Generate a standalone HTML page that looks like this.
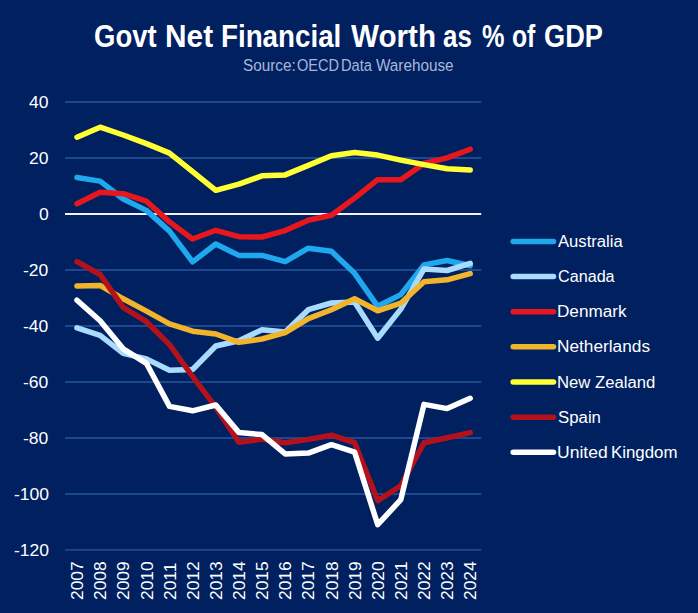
<!DOCTYPE html>
<html><head><meta charset="utf-8"><title>Govt Net Financial Worth as % of GDP</title>
<style>
html,body{margin:0;padding:0;}
body{width:698px;height:613px;background:#002060;overflow:hidden;position:relative;font-family:"Liberation Sans",sans-serif;}
svg{position:absolute;left:0;top:0;}
.t{position:absolute;white-space:nowrap;color:#fff;line-height:1;transform-origin:0 0;}
.b{font-weight:bold;}
</style></head><body>

<svg width="698" height="613" viewBox="0 0 698 613">
<line x1="65" x2="481.2" y1="102.03" y2="102.03" stroke="#1c498d" stroke-width="1.9"/>
<line x1="65" x2="481.2" y1="158.01" y2="158.01" stroke="#1c498d" stroke-width="1.9"/>
<line x1="65" x2="481.2" y1="269.99" y2="269.99" stroke="#1c498d" stroke-width="1.9"/>
<line x1="65" x2="481.2" y1="325.97" y2="325.97" stroke="#1c498d" stroke-width="1.9"/>
<line x1="65" x2="481.2" y1="381.96" y2="381.96" stroke="#1c498d" stroke-width="1.9"/>
<line x1="65" x2="481.2" y1="437.94" y2="437.94" stroke="#1c498d" stroke-width="1.9"/>
<line x1="65" x2="481.2" y1="493.93" y2="493.93" stroke="#1c498d" stroke-width="1.9"/>
<line x1="65" x2="481.2" y1="549.92" y2="549.92" stroke="#1c498d" stroke-width="1.9"/>
<line x1="65" x2="481.2" y1="214.00" y2="214.00" stroke="#eef3ff" stroke-width="2.2"/>
<polyline points="77.0,177.5 100.1,181.1 123.2,199.0 146.4,210.4 169.5,231.1 192.6,261.9 215.8,244.0 238.9,255.4 262.0,255.4 285.2,261.6 308.3,248.2 331.4,251.3 354.6,273.3 377.7,306.3 400.8,294.6 424.0,264.9 447.1,260.5 470.2,265.8" fill="none" stroke="#1fa8ee" stroke-width="5.5" stroke-linecap="round" stroke-linejoin="round"/>
<polyline points="77.0,327.8 100.1,335.4 123.2,353.3 146.4,358.9 169.5,370.3 192.6,369.5 215.8,346.0 238.9,340.7 262.0,329.8 285.2,332.0 308.3,309.7 331.4,303.0 354.6,302.1 377.7,338.2 400.8,309.1 424.0,268.9 447.1,270.5 470.2,263.3" fill="none" stroke="#a9dbff" stroke-width="5.5" stroke-linecap="round" stroke-linejoin="round"/>
<polyline points="77.0,203.7 100.1,192.3 123.2,193.7 146.4,201.2 169.5,221.9 192.6,239.0 215.8,230.3 238.9,236.7 262.0,237.0 285.2,230.6 308.3,220.2 331.4,215.2 354.6,198.1 377.7,179.7 400.8,179.7 424.0,163.5 447.1,157.9 470.2,149.2" fill="none" stroke="#e8171e" stroke-width="5.5" stroke-linecap="round" stroke-linejoin="round"/>
<polyline points="77.0,285.9 100.1,285.4 123.2,298.8 146.4,311.1 169.5,323.9 192.6,331.2 215.8,334.0 238.9,342.4 262.0,339.0 285.2,332.6 308.3,318.6 331.4,309.7 354.6,298.8 377.7,310.8 400.8,303.2 424.0,281.7 447.1,279.8 470.2,273.6" fill="none" stroke="#f1b42a" stroke-width="5.5" stroke-linecap="round" stroke-linejoin="round"/>
<polyline points="77.0,137.2 100.1,127.2 123.2,135.0 146.4,143.6 169.5,153.1 192.6,171.6 215.8,190.3 238.9,184.2 262.0,175.8 285.2,174.9 308.3,165.4 331.4,155.7 354.6,152.6 377.7,155.1 400.8,160.1 424.0,164.6 447.1,168.8 470.2,169.9" fill="none" stroke="#ffff33" stroke-width="5.5" stroke-linecap="round" stroke-linejoin="round"/>
<polyline points="77.0,261.6 100.1,274.5 123.2,307.4 146.4,321.7 169.5,344.6 192.6,376.5 215.8,407.2 238.9,442.2 262.0,439.1 285.2,442.7 308.3,439.4 331.4,435.2 354.6,442.7 377.7,500.6 400.8,485.8 424.0,442.7 447.1,437.7 470.2,432.6" fill="none" stroke="#b3121d" stroke-width="5.5" stroke-linecap="round" stroke-linejoin="round"/>
<polyline points="77.0,300.2 100.1,320.8 123.2,348.8 146.4,363.3 169.5,406.4 192.6,410.8 215.8,405.0 238.9,432.6 262.0,434.6 285.2,453.9 308.3,453.1 331.4,444.7 354.6,452.2 377.7,524.6 400.8,499.7 424.0,404.4 447.1,408.6 470.2,398.3" fill="none" stroke="#ffffff" stroke-width="5.5" stroke-linecap="round" stroke-linejoin="round"/>
<line x1="513.2" x2="553.5" y1="241.40" y2="241.40" stroke="#1fa8ee" stroke-width="5.5" stroke-linecap="round"/>
<line x1="513.2" x2="553.5" y1="276.55" y2="276.55" stroke="#a9dbff" stroke-width="5.5" stroke-linecap="round"/>
<line x1="513.2" x2="553.5" y1="311.70" y2="311.70" stroke="#e8171e" stroke-width="5.5" stroke-linecap="round"/>
<line x1="513.2" x2="553.5" y1="346.85" y2="346.85" stroke="#f1b42a" stroke-width="5.5" stroke-linecap="round"/>
<line x1="513.2" x2="553.5" y1="382.00" y2="382.00" stroke="#ffff33" stroke-width="5.5" stroke-linecap="round"/>
<line x1="513.2" x2="553.5" y1="417.15" y2="417.15" stroke="#b3121d" stroke-width="5.5" stroke-linecap="round"/>
<line x1="513.2" x2="553.5" y1="452.30" y2="452.30" stroke="#ffffff" stroke-width="5.5" stroke-linecap="round"/>
</svg>
<div class="t b" style="left:94.49px;top:21.00px;font-size:31px;transform:scaleX(0.8870)">Govt</div>
<div class="t b" style="left:164.58px;top:21.00px;font-size:31px;transform:scaleX(0.9621)">Net</div>
<div class="t b" style="left:220.51px;top:21.00px;font-size:31px;transform:scaleX(0.8952)">Financial</div>
<div class="t b" style="left:351.20px;top:21.00px;font-size:31px;transform:scaleX(0.9563)">Worth</div>
<div class="t b" style="left:443.17px;top:21.00px;font-size:31px;transform:scaleX(0.8369)">as</div>
<div class="t b" style="left:481.89px;top:21.00px;font-size:31px;transform:scaleX(0.8154)">%</div>
<div class="t b" style="left:512.20px;top:21.00px;font-size:31px;transform:scaleX(0.7964)">of</div>
<div class="t b" style="left:544.40px;top:21.00px;font-size:31px;transform:scaleX(0.8769)">GDP</div>
<div class="t" style="left:242.92px;top:57.5px;font-size:14.7px;color:#a9b8d8;transform:scale(1.0412,1.08)">Source:</div>
<div class="t" style="left:296.96px;top:57.5px;font-size:14.7px;color:#a9b8d8;transform:scale(0.9878,1.08)">OECD</div>
<div class="t" style="left:340.55px;top:57.5px;font-size:14.7px;color:#a9b8d8;transform:scale(0.9983,1.08)">Data</div>
<div class="t" style="left:376.20px;top:57.5px;font-size:14.7px;color:#a9b8d8;transform:scale(1.0405,1.08)">Warehouse</div>
<div class="t" style="left:558.40px;top:234.00px;font-size:16px;transform:scaleX(1.0394)">Australia</div>
<div class="t" style="left:558.24px;top:269.00px;font-size:16px;transform:scaleX(1.0100)">Canada</div>
<div class="t" style="left:557.26px;top:304.00px;font-size:16px;transform:scaleX(1.0698)">Denmark</div>
<div class="t" style="left:557.25px;top:339.00px;font-size:16px;transform:scaleX(1.0781)">Netherlands</div>
<div class="t" style="left:557.30px;top:375.00px;font-size:16px;transform:scaleX(1.0439)">New</div>
<div class="t" style="left:595.18px;top:375.00px;font-size:16px;transform:scaleX(1.0418)">Zealand</div>
<div class="t" style="left:558.11px;top:410.00px;font-size:16px;transform:scaleX(1.0497)">Spain</div>
<div class="t" style="left:557.23px;top:445.00px;font-size:16px;transform:scaleX(1.0955)">United</div>
<div class="t" style="left:610.88px;top:445.00px;font-size:16px;transform:scaleX(1.0525)">Kingdom</div>
<div class="t" style="left:29.40px;top:94.00px;font-size:17px;transform:scaleX(1.03)">40</div>
<div class="t" style="left:29.40px;top:150.00px;font-size:17px;transform:scaleX(1.03)">20</div>
<div class="t" style="left:39.19px;top:206.00px;font-size:17px;transform:scaleX(1.03)">0</div>
<div class="t" style="left:23.48px;top:262.00px;font-size:17px;transform:scaleX(1.03)">-20</div>
<div class="t" style="left:23.48px;top:318.00px;font-size:17px;transform:scaleX(1.03)">-40</div>
<div class="t" style="left:23.48px;top:374.00px;font-size:17px;transform:scaleX(1.03)">-60</div>
<div class="t" style="left:23.48px;top:430.00px;font-size:17px;transform:scaleX(1.03)">-80</div>
<div class="t" style="left:13.70px;top:486.00px;font-size:17px;transform:scaleX(1.03)">-100</div>
<div class="t" style="left:13.70px;top:542.00px;font-size:17px;transform:scaleX(1.03)">-120</div>
<div class="t" style="left:69.10px;top:599.80px;font-size:17.4px;transform:rotate(-90deg)">2007</div>
<div class="t" style="left:92.24px;top:599.80px;font-size:17.4px;transform:rotate(-90deg)">2008</div>
<div class="t" style="left:115.37px;top:599.80px;font-size:17.4px;transform:rotate(-90deg)">2009</div>
<div class="t" style="left:138.51px;top:599.80px;font-size:17.4px;transform:rotate(-90deg)">2010</div>
<div class="t" style="left:161.64px;top:599.80px;font-size:17.4px;transform:rotate(-90deg)">2011</div>
<div class="t" style="left:184.78px;top:599.80px;font-size:17.4px;transform:rotate(-90deg)">2012</div>
<div class="t" style="left:207.91px;top:599.80px;font-size:17.4px;transform:rotate(-90deg)">2013</div>
<div class="t" style="left:231.05px;top:599.80px;font-size:17.4px;transform:rotate(-90deg)">2014</div>
<div class="t" style="left:254.18px;top:599.80px;font-size:17.4px;transform:rotate(-90deg)">2015</div>
<div class="t" style="left:277.31px;top:599.80px;font-size:17.4px;transform:rotate(-90deg)">2016</div>
<div class="t" style="left:300.45px;top:599.80px;font-size:17.4px;transform:rotate(-90deg)">2017</div>
<div class="t" style="left:323.58px;top:599.80px;font-size:17.4px;transform:rotate(-90deg)">2018</div>
<div class="t" style="left:346.72px;top:599.80px;font-size:17.4px;transform:rotate(-90deg)">2019</div>
<div class="t" style="left:369.85px;top:599.80px;font-size:17.4px;transform:rotate(-90deg)">2020</div>
<div class="t" style="left:392.99px;top:599.80px;font-size:17.4px;transform:rotate(-90deg)">2021</div>
<div class="t" style="left:416.12px;top:599.80px;font-size:17.4px;transform:rotate(-90deg)">2022</div>
<div class="t" style="left:439.26px;top:599.80px;font-size:17.4px;transform:rotate(-90deg)">2023</div>
<div class="t" style="left:462.39px;top:599.80px;font-size:17.4px;transform:rotate(-90deg)">2024</div>
</body></html>
